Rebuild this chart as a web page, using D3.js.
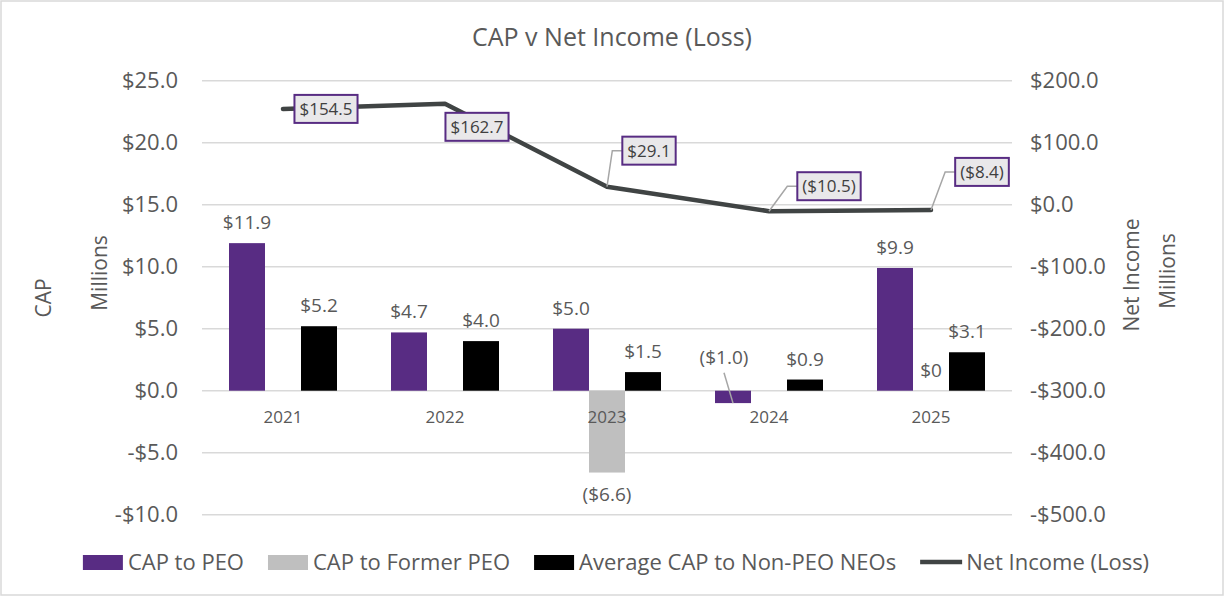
<!DOCTYPE html>
<html>
<head>
<meta charset="utf-8">
<script src="https://cdn.jsdelivr.net/npm/d3@7"></script>
<style>
  body { margin: 0; background: #fff; }
  text { font-family: "Open Sans", sans-serif; }
</style>
</head>
<body>
<script>
// chart data
var years = ["2021", "2022", "2023", "2024", "2025"];
var capPEO = [11.9, 4.7, 5.0, -1.0, 9.9];
var capFormerPEO = [null, null, -6.6, null, 0];
var capNonPEO = [5.2, 4.0, 1.5, 0.9, 3.1];
var netIncome = [154.5, 162.7, 29.1, -10.5, -8.4];
var leftTicks = [-10, -5, 0, 5, 10, 15, 20, 25];
var rightTicks = [-500, -400, -300, -200, -100, 0, 100, 200];
var seriesNames = ["CAP to PEO", "CAP to Former PEO", "Average CAP to Non-PEO NEOs"];
var lineName = "Net Income (Loss)";

onload = function () {
  var width = 1225,
      height = 597;

  var purple = "#582c83", gray = "#bfbfbf", black = "#000000", lineCol = "#404444";
  var textCol = "#595959";

  var svg = d3.select("body").append("svg")
      .attr("width", width)
      .attr("height", height);

  svg.append("rect")
    .attr("x", 1).attr("y", 1)
    .attr("width", width - 3).attr("height", height - 3)
    .attr("fill", "#fff").attr("stroke", "#d9d9d9").attr("stroke-width", 1.5);

  var x = d3.scaleBand().domain(years).range([202, 1012]);
  var xs = d3.scaleBand().domain([0, 1, 2]).range([27, 135]);
  var yL = d3.scaleLinear().domain([-10, 25]).range([514.7, 80.7]);
  var yR = d3.scaleLinear().domain([-500, 200]).range([514.7, 80.7]);

  // title
  svg.append("text")
    .attr("x", 612).attr("y", 46)
    .attr("text-anchor", "middle")
    .attr("font-size", 25)
    .attr("fill", textCol)
    .text("CAP v Net Income (Loss)");

  // gridlines
  svg.append("g").selectAll("line")
    .data(leftTicks)
    .enter().append("line")
    .attr("x1", 202).attr("x2", 1012)
    .attr("y1", function (d) { return yL(d); })
    .attr("y2", function (d) { return yL(d); })
    .attr("stroke", "#d9d9d9").attr("stroke-width", 1.5);

  // axes
  var fmtAxis = function (d) { return (d < 0 ? "-" : "") + "$" + Math.abs(d).toFixed(1); };

  var gl = svg.append("g").attr("transform", "translate(202,0)")
    .call(d3.axisLeft(yL).tickValues(leftTicks).tickFormat(fmtAxis).tickSize(0).tickPadding(24));
  var gr = svg.append("g").attr("transform", "translate(1012,0)")
    .call(d3.axisRight(yR).tickValues(rightTicks).tickFormat(fmtAxis).tickSize(0).tickPadding(18));
  [gl, gr].forEach(function (g) {
    g.select(".domain").remove();
    g.selectAll("text").attr("font-size", 22).attr("fill", textCol)
      .style("font-family", "'Open Sans', sans-serif");
  });

  // axis titles
  function vtitle(tx, ty, label) {
    svg.append("text")
      .attr("transform", "translate(" + tx + "," + ty + ") rotate(-90)")
      .attr("text-anchor", "middle")
      .attr("font-size", 21)
      .attr("fill", textCol)
      .text(label);
  }
  vtitle(51, 298, "CAP");
  vtitle(107, 273, "Millions");
  vtitle(1139, 275, "Net Income");
  vtitle(1175, 271, "Millions");

  // bars
  var bars = [];
  years.forEach(function (yr, i) {
    [capPEO[i], capFormerPEO[i], capNonPEO[i]].forEach(function (v, s) {
      if (v !== null) bars.push({ year: yr, s: s, v: v });
    });
  });
  var colors = [purple, gray, black];

  svg.append("g").selectAll("rect")
    .data(bars)
    .enter().append("rect")
    .attr("x", function (d) { return x(d.year) + xs(d.s); })
    .attr("width", xs.bandwidth())
    .attr("y", function (d) { return yL(Math.max(0, d.v)); })
    .attr("height", function (d) { return Math.abs(yL(d.v) - yL(0)); })
    .attr("fill", function (d) { return colors[d.s]; });

  // category labels
  var gx = svg.append("g").attr("transform", "translate(0," + yL(0) + ")")
    .call(d3.axisBottom(x).tickSize(0).tickPadding(20));
  gx.select(".domain").remove();
  gx.selectAll("text").attr("font-size", 17).attr("fill", textCol)
    .style("font-family", "'Open Sans', sans-serif");

  // bar labels
  var fmtBar = function (v) {
    if (v === 0) return "$0";
    return v < 0 ? "($" + Math.abs(v).toFixed(1) + ")" : "$" + v.toFixed(1);
  };
  bars.forEach(function (d) {
    var cx = x(d.year) + xs(d.s) + xs.bandwidth() / 2;
    var ty;
    if (d.v >= 0) ty = yL(d.v) - 14;
    else if (d.s === 1) ty = yL(d.v) + 28;
    else {
      // small negative bar: label above with leader
      ty = yL(0) - 27;
      svg.append("line")
        .attr("x1", cx - 9).attr("y1", ty + 9)
        .attr("x2", cx).attr("y2", yL(d.v))
        .attr("stroke", "#a6a6a6").attr("stroke-width", 1.5);
      cx = cx - 9;
    }
    svg.append("text")
      .attr("x", cx).attr("y", ty)
      .attr("text-anchor", "middle")
      .attr("font-size", 19)
      .attr("fill", textCol)
      .text(fmtBar(d.v));
  });

  // net income line
  var line = d3.line()
    .x(function (d, i) { return x(years[i]) + x.bandwidth() / 2; })
    .y(function (d) { return yR(d); });

  svg.append("path")
    .datum(netIncome)
    .attr("d", line)
    .attr("fill", "none")
    .attr("stroke", lineCol)
    .attr("stroke-width", 4.5)
    .attr("stroke-linecap", "round")
    .attr("stroke-linejoin", "round");

  // line data labels (offsets from the point, leader when detached)
  var lblOff = [[43, 0, false], [32, 23, false], [42, -36, true], [60, -25, true], [51, -38, true]];
  var fmtLine = function (v) { return v < 0 ? "($" + Math.abs(v).toFixed(1) + ")" : "$" + v.toFixed(1); };
  var leadG = svg.append("g");
  netIncome.forEach(function (v, i) {
    var px = x(years[i]) + x.bandwidth() / 2, py = yR(v);
    var cx = px + lblOff[i][0], cy = py + lblOff[i][1];
    var g = svg.append("g");
    var t = g.append("text")
      .attr("x", cx).attr("y", cy + 6)
      .attr("text-anchor", "middle")
      .attr("font-size", 17)
      .attr("fill", "#404040")
      .text(fmtLine(v));
    var w = t.node().getComputedTextLength() + 10;
    g.insert("rect", "text")
      .attr("x", cx - w / 2).attr("y", cy - 14)
      .attr("width", w).attr("height", 28)
      .attr("fill", "#e9e8ea")
      .attr("stroke", purple).attr("stroke-width", 2);
    if (lblOff[i][2]) {
      var bx = cx - w / 2;
      leadG.append("polyline")
        .attr("points", [[px, py], [bx - 10, cy], [bx, cy]].join(" "))
        .attr("fill", "none")
        .attr("stroke", "#a6a6a6").attr("stroke-width", 1.5);
    }
  });

  // legend
  var items = seriesNames.map(function (n, i) { return { name: n, col: colors[i], line: false }; });
  items.push({ name: lineName, col: lineCol, line: true });
  var lg = svg.append("g");
  var lx = 0;
  items.forEach(function (it) {
    if (it.line) {
      lg.append("line").attr("x1", lx).attr("x2", lx + 42)
        .attr("y1", 562).attr("y2", 562)
        .attr("stroke", it.col).attr("stroke-width", 4.5);
    } else {
      lg.append("rect").attr("x", lx).attr("y", 555)
        .attr("width", 40).attr("height", 15).attr("fill", it.col);
    }
    var t = lg.append("text")
      .attr("x", lx + (it.line ? 46 : 45)).attr("y", 570)
      .attr("font-size", 22)
      .attr("fill", textCol)
      .text(it.name);
    lx = lx + (it.line ? 46 : 45) + t.node().getComputedTextLength() + 24;
  });
  var lw = lx - 24;
  lg.attr("transform", "translate(" + (616 - lw / 2) + ",0)");
};
</script>
</body>
</html>
